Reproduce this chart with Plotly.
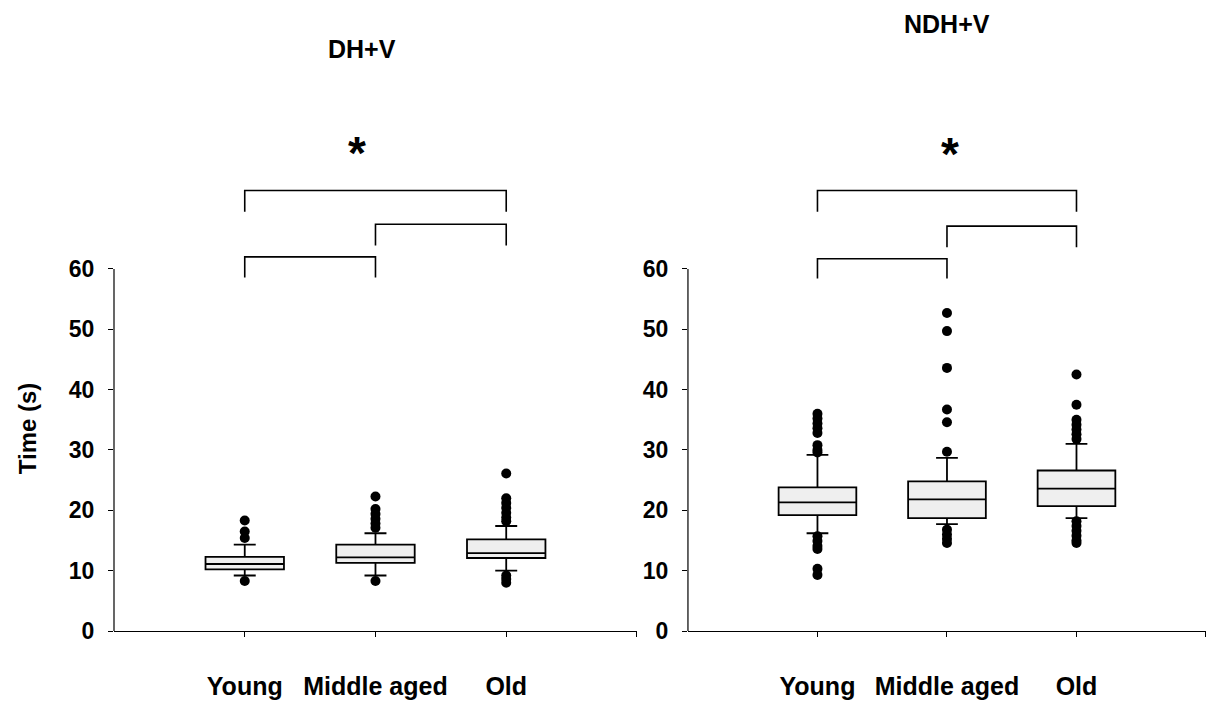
import plotly.graph_objects as go

# ---------------- data ----------------
categories = ["Young", "Middle aged", "Old"]
cat_pos = [1, 2, 3]

# DH+V panel
dh_q1 = [10.2, 11.3, 12.1]
dh_median = [11.1, 12.2, 12.9]
dh_q3 = [12.3, 14.3, 15.2]
dh_lower = [9.2, 9.2, 10.0]
dh_upper = [14.3, 16.2, 17.4]
dh_out_young = [18.3, 16.5, 15.4, 8.3]
dh_out_middle = [22.3, 20.2, 19.4, 18.6, 17.8, 17.1, 8.3]
dh_out_old = [26.1, 22.0, 21.2, 20.4, 19.6, 18.8, 18.2, 9.2, 8.6, 8.0]

# NDH+V panel
ndh_q1 = [19.2, 18.7, 20.7]
ndh_median = [21.3, 21.8, 23.6]
ndh_q3 = [23.8, 24.8, 26.6]
ndh_lower = [16.2, 17.7, 18.7]
ndh_upper = [29.2, 28.7, 31.0]
ndh_out_young = [36.0, 35.2, 34.4, 33.6, 32.8, 30.8, 30.0, 29.6,
                 15.7, 14.9, 14.1, 13.6, 10.3, 9.3]
ndh_out_middle = [52.7, 49.7, 43.6, 36.7, 34.6, 29.7, 16.8, 16.0, 15.3, 14.6]
ndh_out_old = [42.5, 37.5, 35.0, 34.2, 33.4, 32.6, 31.8,
               18.2, 17.4, 16.6, 15.8, 15.0, 14.6]

y_ticks = [0, 10, 20, 30, 40, 50, 60]

# significance brackets: (x_start, x_end, y_top, y_leg_bottom)
dh_brackets = [(1, 3, 73.0, 69.5), (2, 3, 67.4, 63.9), (1, 2, 62.0, 58.6)]
ndh_brackets = [(1, 3, 73.0, 69.5), (2, 3, 67.1, 63.6), (1, 2, 61.7, 58.4)]
dh_star = (1.86, 79.3)
ndh_star = (2.02, 79.0)

# ---------------- figure ----------------
FONT = "Liberation Sans, Arial, sans-serif"
W, H = 1208, 702
M_T, M_B = 100, 65
YMAX = 88
BOX_FILL = "#efefef"


def paper_y(py):
    return (H - M_B - py) / (H - M_T - M_B)


fig = go.Figure()


def add_panel(xa, ya, q1, med, q3, lo, up, outs):
    fig.add_trace(go.Box(
        x=cat_pos, q1=q1, median=med, q3=q3, lowerfence=lo, upperfence=up,
        width=0.6, whiskerwidth=0.28, fillcolor=BOX_FILL,
        line=dict(color="black", width=1.8), boxpoints=False,
        xaxis=xa, yaxis=ya, showlegend=False, hoverinfo="skip"))
    for pos, vals in zip(cat_pos, outs):
        fig.add_trace(go.Scatter(
            x=[pos] * len(vals), y=vals, mode="markers",
            marker=dict(color="black", size=10, symbol="circle"),
            xaxis=xa, yaxis=ya, showlegend=False, hoverinfo="skip"))


add_panel("x", "y", dh_q1, dh_median, dh_q3, dh_lower, dh_upper,
          [dh_out_young, dh_out_middle, dh_out_old])
add_panel("x2", "y2", ndh_q1, ndh_median, ndh_q3, ndh_lower, ndh_upper,
          [ndh_out_young, ndh_out_middle, ndh_out_old])

shapes = []
for xr, yr, brs in (("x", "y", dh_brackets), ("x2", "y2", ndh_brackets)):
    for x0, x1, yt, yb in brs:
        shapes.append(dict(
            type="path", xref=xr, yref=yr,
            path=f"M {x0},{yb} L {x0},{yt} L {x1},{yt} L {x1},{yb}",
            line=dict(color="black", width=1.6)))

dom1 = [0, 0.4789]
dom2 = [0.5256, 1]
# y axis lines only spanning 0..60
for xp in (dom1[0], dom2[0]):
    shapes.append(dict(type="line", xref="paper", yref="paper",
                       x0=xp, x1=xp, y0=0, y1=60 / YMAX,
                       line=dict(color="black", width=1.2)))

xaxis_common = dict(
    range=[0, 4], tickvals=cat_pos + [4], ticktext=categories + [""],
    showline=True, linecolor="black", linewidth=1.2,
    ticks="outside", ticklen=5, tickcolor="black", tickwidth=1,
    showgrid=False, zeroline=False, ticklabelstandoff=28,
    tickfont=dict(family=FONT, size=25, color="black", weight="bold"))
yaxis_common = dict(
    range=[0, YMAX], tickvals=y_ticks, showline=False,
    ticks="outside", ticklen=5, tickcolor="black", tickwidth=1,
    showgrid=False, zeroline=False, ticklabelstandoff=9,
    tickfont=dict(family=FONT, size=23, color="black", weight="bold"))

annotations = [
    dict(text="<b>DH+V</b>", xref="paper", yref="paper", x=0.2271, y=paper_y(48),
         xanchor="center", yanchor="middle", showarrow=False,
         font=dict(family=FONT, size=25, color="black")),
    dict(text="<b>NDH+V</b>", xref="paper", yref="paper", x=0.7628, y=paper_y(23),
         xanchor="center", yanchor="middle", showarrow=False,
         font=dict(family=FONT, size=25, color="black")),
    dict(text="<b>Time (s)</b>", xref="paper", yref="paper", x=-0.0797, y=paper_y(432),
         xanchor="center", yanchor="middle", textangle=-90, showarrow=False,
         font=dict(family=FONT, size=24, color="black")),
    dict(text="<b>*</b>", xref="x", yref="y", x=dh_star[0], y=dh_star[1],
         showarrow=False, yanchor="middle", yshift=0,
         font=dict(family=FONT, size=46, color="black")),
    dict(text="<b>*</b>", xref="x2", yref="y2", x=ndh_star[0], y=ndh_star[1],
         showarrow=False, yanchor="middle", yshift=0,
         font=dict(family=FONT, size=46, color="black")),
]

fig.update_layout(
    width=W, height=H, autosize=False,
    margin=dict(l=114, r=2, t=M_T, b=M_B),
    paper_bgcolor="white", plot_bgcolor="white",
    xaxis=dict(domain=dom1, anchor="y", **xaxis_common),
    xaxis2=dict(domain=dom2, anchor="y2", **xaxis_common),
    yaxis=dict(anchor="x", **yaxis_common),
    yaxis2=dict(anchor="x2", **yaxis_common),
    shapes=shapes, annotations=annotations, showlegend=False,
)

fig.write_html("out.html",
               config={"displayModeBar": False, "responsive": False},
               post_script="document.body.style.margin='0';")
